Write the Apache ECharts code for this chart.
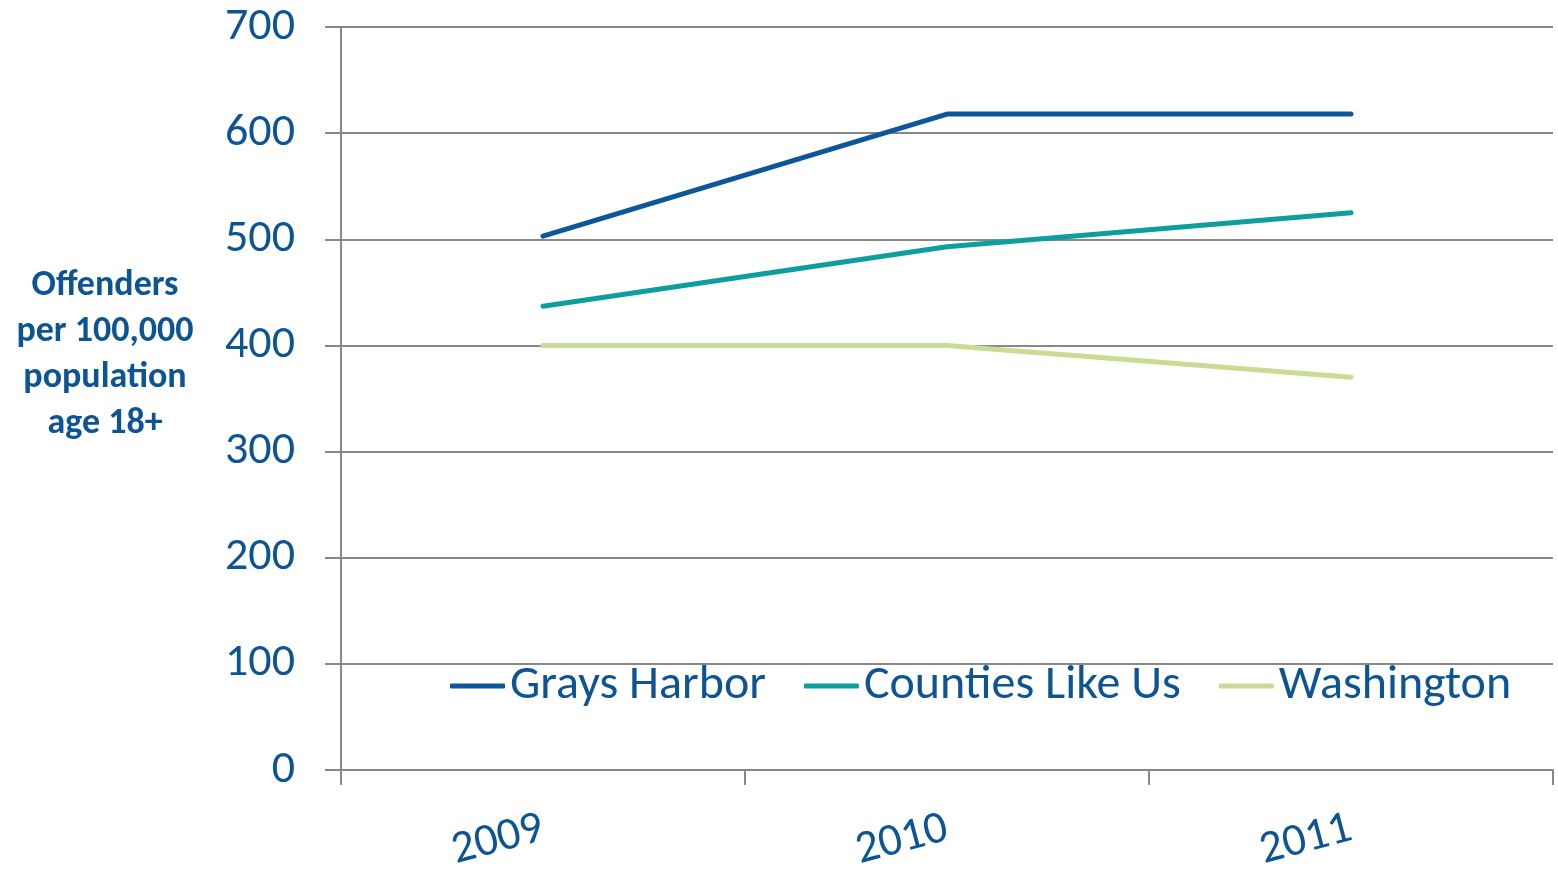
<!DOCTYPE html>
<html>
<head>
<meta charset="utf-8">
<script src="https://cdn.jsdelivr.net/npm/echarts@6/dist/echarts.min.js"></script>
<style>
  html, body { margin: 0; padding: 0; background: #fff; }
  #chart { width: 1558px; height: 870px; }
</style>
</head>
<body>
<div id="chart"></div>
<script>
const years = ["2009", "2010", "2011"];
const graysHarbor = [503, 618, 618];
const countiesLikeUs = [437, 493, 525];
const washington = [400, 400, 370];
const yTicks = [0, 100, 200, 300, 400, 500, 600, 700];

const textColor = "#0D5495";
const fontFamily = "Carlito, Lato, sans-serif";

const chart = echarts.init(document.getElementById("chart"));

function lineSeries(name, data, color) {
  return {
    name: name,
    type: "line",
    data: data,
    symbol: "none",
    color: color,
    lineStyle: { width: 5, color: color, cap: "round", join: "round" },
    animation: false
  };
}

chart.setOption({
  textStyle: { fontFamily: fontFamily },
  grid: { left: 341, right: 5, top: 27, bottom: 100, outerBoundsMode: "none", containLabel: false },
  legend: {
    left: 445,
    top: 657,
    icon: "roundRect",
    itemWidth: 55,
    itemHeight: 5,
    itemGap: 38,
    textStyle: { color: textColor, fontSize: 48, fontFamily: fontFamily },
    data: ["Grays Harbor", "Counties Like Us", "Washington"]
  },
  graphic: [{
    type: "text",
    x: 105,
    y: 263,
    style: {
      text: "Offenders\nper 100,000\npopulation\nage 18+",
      fill: textColor,
      font: "bold 36px " + fontFamily,
      textAlign: "center",
      lineHeight: 46
    }
  }],
  xAxis: {
    type: "category",
    data: years,
    boundaryGap: true,
    axisLine: { lineStyle: { color: "#888", width: 2 } },
    axisTick: { show: true, length: 15, lineStyle: { color: "#888", width: 2 } },
    axisLabel: { color: textColor, fontSize: 46, rotate: 15, margin: 58 }
  },
  yAxis: {
    type: "value",
    min: yTicks[0],
    max: yTicks[yTicks.length - 1],
    interval: 100,
    axisLine: { show: true, lineStyle: { color: "#888", width: 2 } },
    axisTick: { show: true, length: 16, lineStyle: { color: "#888", width: 2 } },
    splitLine: { lineStyle: { color: "#888", width: 2 } },
    axisLabel: { color: textColor, fontSize: 46, margin: 46 }
  },
  series: [
    lineSeries("Grays Harbor", graysHarbor, "#0D5699"),
    lineSeries("Counties Like Us", countiesLikeUs, "#0E9EA0"),
    lineSeries("Washington", washington, "#C8DC96")
  ]
});
</script>
</body>
</html>
